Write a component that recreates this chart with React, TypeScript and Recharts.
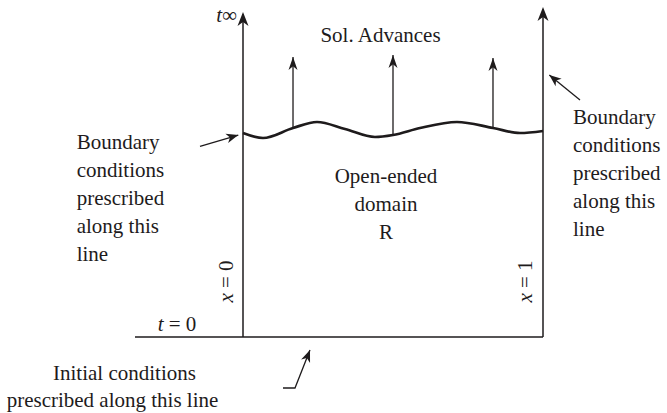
import React from 'react';
import { ComposedChart, Line, Scatter, XAxis, YAxis } from 'recharts';

// Diagram units: x runs from 0 (left boundary) to 1 (right boundary); t grows upward.
const WIDTH = 667;
const HEIGHT = 413;
const X_DOMAIN: [number, number] = [-0.81, 1.41333];
const T_DOMAIN: [number, number] = [-0.25333, 1.12333];

const INK = '#1e1b1c';
const FONT = '"Liberation Serif", "DejaVu Serif", serif';

const leftBoundary = [{ x: 0, t: 0 }, { x: 0, t: 1.075 }];
const rightBoundary = [{ x: 1, t: 0 }, { x: 1, t: 1.092 }];
const initialLine = [{ x: -0.36, t: 0 }, { x: 1, t: 0 }];

const solutionFront = [
  { x: 0, t: 0.68 },
  { x: 0.0667, t: 0.6633 },
  { x: 0.1667, t: 0.6967 },
  { x: 0.2467, t: 0.7167 },
  { x: 0.34, t: 0.6933 },
  { x: 0.44, t: 0.6667 },
  { x: 0.5, t: 0.6733 },
  { x: 0.59, t: 0.6967 },
  { x: 0.7133, t: 0.7167 },
  { x: 0.8333, t: 0.6967 },
  { x: 0.9233, t: 0.68 },
  { x: 1, t: 0.6867 },
];

const axisTips = [
  [{ x: 0, t: 1.0 }, { x: 0, t: 1.0833 }],
  [{ x: 1, t: 1.0 }, { x: 1, t: 1.1 }],
];

const advanceArrows = [
  [{ x: 0.1667, t: 0.6967 }, { x: 0.1667, t: 0.9333 }],
  [{ x: 0.5, t: 0.6733 }, { x: 0.5, t: 0.94 }],
  [{ x: 0.8333, t: 0.6967 }, { x: 0.8333, t: 0.93 }],
];

const pointerArrows = [
  [{ x: -0.1433, t: 0.6356 }, { x: -0.0157, t: 0.6733 }],
  [{ x: 1.1233, t: 0.79 }, { x: 1.021, t: 0.8733 }],
  [{ x: 0.1333, t: -0.17 }, { x: 0.1733, t: -0.17 }, { x: 0.2233, t: -0.0433 }],
];

// '*' marks italic segments
const labels = [
  { x: -0.02, t: 1.05, lines: ['*t*∞'], anchor: 'end', rotate: 0 },
  { x: 0.4583, t: 0.9833, lines: ['Sol. Advances'], anchor: 'middle', rotate: 0 },
  { x: -0.5543, t: 0.6267, lines: ['Boundary', 'conditions', 'prescribed', 'along this', 'line'], anchor: 'start', rotate: 0 },
  { x: 1.1, t: 0.71, lines: ['Boundary', 'conditions', 'prescribed', 'along this', 'line'], anchor: 'start', rotate: 0 },
  { x: 0.4767, t: 0.5133, lines: ['Open-ended', 'domain', 'R'], anchor: 'middle', rotate: 0 },
  { x: -0.0333, t: 0.185, lines: ['*x* = 0'], anchor: 'middle', rotate: -90 },
  { x: 0.9633, t: 0.185, lines: ['*x* = 1'], anchor: 'middle', rotate: -90 },
  { x: -0.22, t: 0.02, lines: ['*t* = 0'], anchor: 'middle', rotate: 0 },
  { x: -0.395, t: -0.1433, lines: ['Initial conditions'], anchor: 'middle', rotate: 0 },
  { x: -0.435, t: -0.2333, lines: ['prescribed along this line'], anchor: 'middle', rotate: 0 },
];

type Pt = { x: number; t: number };

const headOf = (pts: Pt[], len: number, half: number) => {
  const a = pts[pts.length - 2];
  const b = pts[pts.length - 1];
  const angle = (Math.atan2(-(b.t - a.t), b.x - a.x) * 180) / Math.PI;
  return { x: b.x, t: b.t, angle, len, half };
};

const heads = [
  ...axisTips.map((p) => headOf(p, 14, 5.5)),
  ...advanceArrows.map((p) => headOf(p, 13, 4.5)),
  ...pointerArrows.map((p) => headOf(p, 12, 4.8)),
];

const renderHead = (props: any) => {
  const { cx, cy, payload } = props;
  if (cx == null || cy == null) return <g />;
  const { angle, len, half } = payload;
  const d = `M0,0 L${-len},${-half} L${-len * 0.72},0 L${-len},${half} Z`;
  return <path d={d} fill={INK} stroke="none" transform={`translate(${cx},${cy}) rotate(${angle})`} />;
};

const renderRich = (line: string) =>
  line.split('*').map((seg, i) =>
    i % 2 === 1 ? (
      <tspan key={i} fontStyle="italic">
        {seg}
      </tspan>
    ) : (
      <tspan key={i}>{seg}</tspan>
    )
  );

const renderLabel = (props: any) => {
  const { cx, cy, payload } = props;
  if (cx == null || cy == null) return <g />;
  const { lines, anchor, rotate } = payload;
  return (
    <text
      x={cx}
      y={cy}
      textAnchor={anchor}
      style={{ fontFamily: FONT }}
      fontSize={21}
      fill={INK}
      transform={rotate ? `rotate(${rotate} ${cx} ${cy})` : undefined}
    >
      {lines.map((line: string, i: number) => (
        <tspan key={i} x={cx} dy={i === 0 ? 0 : 28}>
          {renderRich(line)}
        </tspan>
      ))}
    </text>
  );
};

export default function App() {
  return (
    <div style={{ position: 'absolute', left: 0, top: 0, width: WIDTH, height: HEIGHT, background: '#fff' }}>
      <ComposedChart width={WIDTH} height={HEIGHT} margin={{ top: 0, right: 0, bottom: 0, left: 0 }}>
        <XAxis type="number" dataKey="x" domain={X_DOMAIN} allowDataOverflow hide />
        <YAxis type="number" dataKey="t" domain={T_DOMAIN} allowDataOverflow hide />
        <Line data={leftBoundary} dataKey="t" type="linear" stroke={INK} strokeWidth={1.5} dot={false} activeDot={false} isAnimationActive={false} />
        <Line data={rightBoundary} dataKey="t" type="linear" stroke={INK} strokeWidth={1.5} dot={false} activeDot={false} isAnimationActive={false} />
        <Line data={initialLine} dataKey="t" type="linear" stroke={INK} strokeWidth={1.7} dot={false} activeDot={false} isAnimationActive={false} />
        <Line data={solutionFront} dataKey="t" type="monotone" stroke={INK} strokeWidth={2.7} dot={false} activeDot={false} isAnimationActive={false} />
        {advanceArrows.map((pts, i) => (
          <Line key={`adv${i}`} data={pts} dataKey="t" type="linear" stroke={INK} strokeWidth={1.3} dot={false} activeDot={false} isAnimationActive={false} />
        ))}
        {pointerArrows.map((pts, i) => (
          <Line key={`ptr${i}`} data={pts} dataKey="t" type="linear" stroke={INK} strokeWidth={1.3} dot={false} activeDot={false} isAnimationActive={false} />
        ))}
        <Scatter data={heads} dataKey="t" shape={renderHead} isAnimationActive={false} />
        <Scatter data={labels} dataKey="t" shape={renderLabel} isAnimationActive={false} />
      </ComposedChart>
    </div>
  );
}
